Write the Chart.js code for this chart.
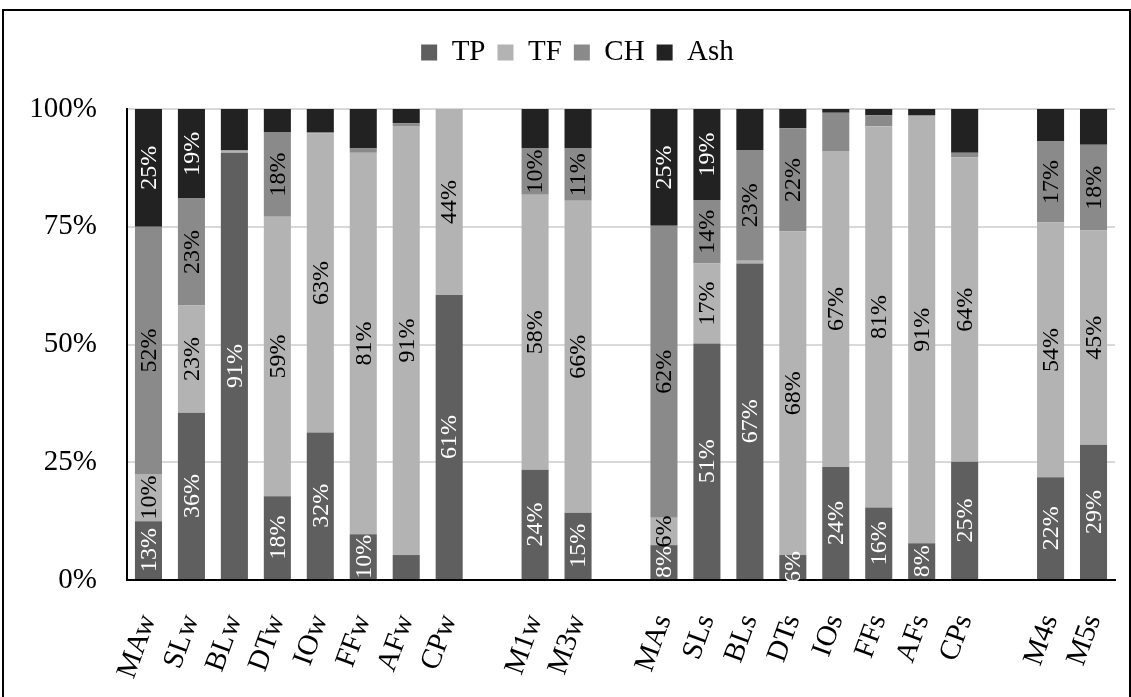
<!DOCTYPE html>
<html>
<head>
<meta charset="utf-8">
<script src="https://cdn.jsdelivr.net/npm/chart.js@4.4.1/dist/chart.umd.min.js"></script>
<style>
  html, body { margin: 0; padding: 0; background: #fff; overflow: hidden; }
  #frame { position: absolute; left: 2px; top: 9px; width: 1125px; height: 700px; border: 2px solid #000; }
  #chart-box { position: relative; width: 1125px; height: 688px; }
</style>
</head>
<body>
<div id="frame"><div id="chart-box"><canvas id="share-chart"></canvas></div></div>
<script>
// categories ('' = spacer column between groups)
var categories = ['MAw', 'SLw', 'BLw', 'DTw', 'IOw', 'FFw', 'AFw', 'CPw', '',
  'M1w', 'M3w', '',
  'MAs', 'SLs', 'BLs', 'DTs', 'IOs', 'FFs', 'AFs', 'CPs', '',
  'M4s', 'M5s'];

// segment heights (% of bar)
var tpValues  = [12.5, 35.5, 90.7, 17.8, 31.3, 9.7, 5.3, 60.5, null, 23.4, 14.3, null, 7.4, 50.2, 67.2, 5.3, 24.0, 15.4, 7.8, 25.1, null, 21.8, 28.7];
var tfValues  = [10.0, 22.8, 0.5, 59.3, 63.5, 81.0, 91.1, 39.5, null, 58.4, 66.2, null, 5.8, 17.0, 0.6, 68.7, 67.1, 80.9, 90.7, 64.6, null, 54.1, 45.5];
var chValues  = [52.5, 22.7, 0.0, 18.0, 0.2, 0.9, 0.6, 0.0, null, 9.9, 11.1, null, 62.0, 13.5, 23.5, 21.9, 8.1, 2.4, 0.2, 1.0, null, 17.2, 18.2];
var ashValues = [25.0, 19.0, 8.8, 4.9, 5.0, 8.4, 3.0, 0.0, null, 8.3, 8.4, null, 24.8, 19.3, 8.7, 4.1, 0.8, 1.3, 1.3, 9.3, null, 6.9, 7.6];

// printed data labels
var tpLabels  = ['13%', '36%', '91%', '18%', '32%', '10%', null, '61%', null, '24%', '15%', null, '8%', '51%', '67%', '6%', '24%', '16%', '8%', '25%', null, '22%', '29%'];
var tfLabels  = ['10%', '23%', null, '59%', '63%', '81%', '91%', '44%', null, '58%', '66%', null, '6%', '17%', null, '68%', '67%', '81%', '91%', '64%', null, '54%', '45%'];
var chLabels  = ['52%', '23%', null, '18%', null, null, null, null, null, '10%', '11%', null, '62%', '14%', '23%', '22%', null, null, null, null, null, '17%', '18%'];
var ashLabels = ['25%', '19%', null, null, null, null, null, null, null, null, null, null, '25%', '19%', null, null, null, null, null, null, null, null, null];

var yTicks = [0, 25, 50, 75, 100];

var serif = "'Liberation Serif', 'Times New Roman', serif";

// datasets
var seriesDefs = [
  { label: 'TP', data: tpValues, labels: tpLabels, color: '#5f5f5f', textColor: '#ffffff' },
  { label: 'TF', data: tfValues, labels: tfLabels, color: '#b3b3b3', textColor: '#000000' },
  { label: 'CH', data: chValues, labels: chLabels, color: '#8a8a8a', textColor: '#000000' },
  { label: 'Ash', data: ashValues, labels: ashLabels, color: '#222222', textColor: '#ffffff' }
];

var shareData = {
  labels: categories,
  datasets: seriesDefs.map(function (s) {
    return {
      label: s.label,
      data: s.data,
      valueLabels: s.labels,
      labelColor: s.textColor,
      backgroundColor: s.color,
      borderWidth: 0,
      barPercentage: 0.63,
      categoryPercentage: 1
    };
  })
};

// vertical labels in the middle of each segment
var segmentLabels = {
  id: 'segmentLabels',
  afterDatasetsDraw: function (chart) {
    var ctx = chart.ctx;
    ctx.save();
    ctx.font = '24px ' + serif;
    ctx.textAlign = 'center';
    ctx.textBaseline = 'middle';
    chart.data.datasets.forEach(function (ds, i) {
      var meta = chart.getDatasetMeta(i);
      meta.data.forEach(function (bar, j) {
        var txt = ds.valueLabels[j];
        if (!txt) return;
        ctx.save();
        ctx.translate(bar.x, (bar.y + bar.base) / 2);
        ctx.rotate(-Math.PI / 2);
        ctx.fillStyle = ds.labelColor;
        ctx.fillText(txt, 0, 1);
        ctx.restore();
      });
    });
    ctx.restore();
  }
};

// move the legend up and a little right, like the original
var legendShift = {
  id: 'legendShift',
  afterLayout: function (chart) {
    var lg = chart.legend;
    lg.left += 18;
    lg.right += 18;
    lg.top -= 32;
    lg.bottom -= 32;
  }
};

var shareOptions = {
  responsive: true,
  maintainAspectRatio: false,
  animation: false,
  layout: { padding: { top: 47, right: 14, left: 0, bottom: 0 } },
  plugins: {
    legend: {
      position: 'top',
      labels: {
        color: '#000',
        boxWidth: 16,
        boxHeight: 16,
        padding: 12,
        font: { family: serif, size: 29 }
      }
    },
    tooltip: { enabled: false }
  },
  scales: {
    x: {
      stacked: true,
      grid: { display: false },
      border: { color: '#000', width: 2 },
      ticks: {
        color: '#000',
        autoSkip: false,
        minRotation: 70,
        maxRotation: 70,
        padding: 22,
        font: { family: serif, size: 29 }
      },
      afterFit: function (s) {
        s.height = 119;
        s.paddingRight = 0;
      }
    },
    y: {
      stacked: true,
      min: 0,
      max: 100,
      grid: { color: '#d9d9d9', lineWidth: 2, drawTicks: false },
      border: { color: '#000', width: 2 },
      ticks: {
        color: '#000',
        padding: 30,
        font: { family: serif, size: 29 },
        callback: function (v) { return yTicks.indexOf(v) >= 0 ? v + '%' : null; },
        stepSize: 25
      },
      afterFit: function (s) { s.width = 123; }
    }
  }
};

new Chart(document.getElementById('share-chart'), {
  type: 'bar',
  data: shareData,
  options: shareOptions,
  plugins: [segmentLabels, legendShift]
});
</script>
</body>
</html>
